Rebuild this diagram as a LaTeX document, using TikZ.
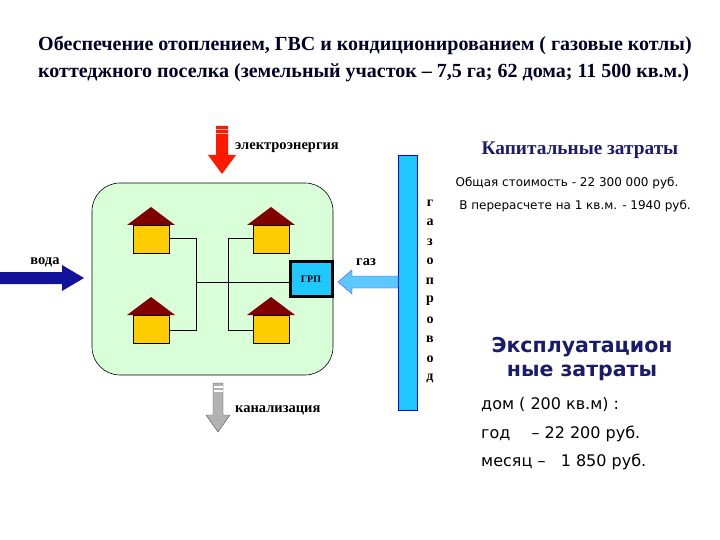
\documentclass[tikz,border=0pt]{standalone}
\usepackage{fontspec}
\setmainfont{Liberation Serif}
\newfontfamily\sansf{DejaVu Sans}
\definecolor{cy}{HTML}{1FC8FF}
\definecolor{gascol}{HTML}{5CC8FF}
\definecolor{hy}{HTML}{FFCC00}
\definecolor{navyc}{HTML}{1A1A6E}
\begin{document}
\begin{tikzpicture}[x=1pt,y=-1pt,
  roof/.style={fill=red!50!black},
  body/.style={fill=hy,draw=black,line width=0.6pt},
  wire/.style={line width=0.7pt},
  navy/.style={text=navyc},
  lbl/.style={font=\bfseries\fontsize{14.5}{16}\selectfont,inner sep=0pt}]
\useasboundingbox (0,0) rectangle (720,540);
\node[font=\bfseries\fontsize{20}{22}\selectfont,text=black!85!blue,anchor=west,align=left,inner sep=0] (title) at (38,59)
 {Обеспечение отоплением, ГВС и кондиционированием ( газовые котлы)\\[5pt]коттеджного поселка (земельный участок – 7,5 га; 62 дома; 11 500 кв.м.)};
% site
\draw[fill=green!15,line width=0.6pt,rounded corners=28] (92,183) rectangle (333,375);
% houses
\foreach \cx/\ty in {151/207,271/207,151/297,271/297}{
  \fill[roof] (\cx-24,\ty+18) -- (\cx,\ty) -- (\cx+24,\ty+18) -- cycle;
  \draw[body] (\cx-18,\ty+18) rectangle (\cx+18,\ty+46);
}
\draw[wire] (169,238) -- (196,238) -- (196,330) -- (169,330);
\draw[wire] (253,238) -- (228,238) -- (228,330) -- (253,330);
\draw[wire] (196,282) -- (290,282);
\node[draw=black,line width=3pt,fill=cy,minimum width=42,minimum height=35,font=\bfseries\fontsize{10}{11}\selectfont,inner sep=0] (grp) at (311,279) {ГРП};
% gas pipe
\node[draw=blue,fill=cy,minimum width=19,minimum height=255,inner sep=0] (pipe) at (407.5,282.5) {};
\foreach \ch [count=\i] in {г,а,з,о,п,р,о,в,о,д}
  \node[font=\bfseries\fontsize{14}{15}\selectfont,inner sep=0] at (430,203+19.5*\i-19.5) {\ch};
% gas arrow
\draw[fill=gascol,draw=blue!70] (398,276) -- (352,276) -- (352,270) -- (338,282) -- (352,294) -- (352,288) -- (398,288) -- cycle;
\node[lbl] (gaz) at (366,262) {газ};
% water
\fill[navyc!70!blue] (0,272) -- (62,272) -- (62,265) -- (84,278) -- (62,291) -- (62,284) -- (0,284) -- cycle;
\node[lbl] (voda) at (45,262) {вода};
% electricity
\fill[red!80!orange] (216,126) -- (228,126) -- (228,155) -- (236,155) -- (222,174) -- (208,155) -- (216,155) -- cycle;
\fill[white!70!red] (216,129) rectangle (228,130.5);
\fill[white!70!red] (216,133) rectangle (228,134.5);
% sewage
\node[lbl,anchor=west] (el) at (235,148) {электроэнергия};
\draw[fill=gray!60,draw=gray!60!black] (213,383) -- (223,383) -- (223,415) -- (230,415) -- (218,432) -- (206,415) -- (213,415) -- cycle;
\fill[white] (213.5,386) rectangle (222.5,387.5);
\fill[white] (213.5,390) rectangle (222.5,391.5);
\node[lbl,anchor=west] (kan) at (235,410) {канализация};
% right texts
\node[navy,font=\bfseries\fontsize{19.3}{22}\selectfont] (cap) at (580,150) {Капитальные затраты};
\node[font=\sansf\fontsize{12}{14}\selectfont] (t1) at (567,183) {Общая стоимость - 22 300 000 руб.};
\node[font=\sansf\fontsize{12}{14}\selectfont] (t2) at (575,206) {В перерасчете на 1 кв.м. - 1940 руб.};
\node[navy,font=\sansf\bfseries\fontsize{20.5}{24}\selectfont,align=center] (op) at (582,359) {Эксплуатацион\\ные затраты};
\node[anchor=west,font=\sansf\fontsize{16}{18}\selectfont,inner sep=0] (d1) at (481,405) {дом ( 200 кв.м) :};
\node[anchor=west,font=\sansf\fontsize{16}{18}\selectfont,inner sep=0] (d2) at (481,434) {год \quad – 22 200 руб.};
\node[anchor=west,font=\sansf\fontsize{16}{18}\selectfont,inner sep=0] (d3) at (481,462) {месяц – \ \ 1 850 руб.};
\end{tikzpicture}
\end{document}
